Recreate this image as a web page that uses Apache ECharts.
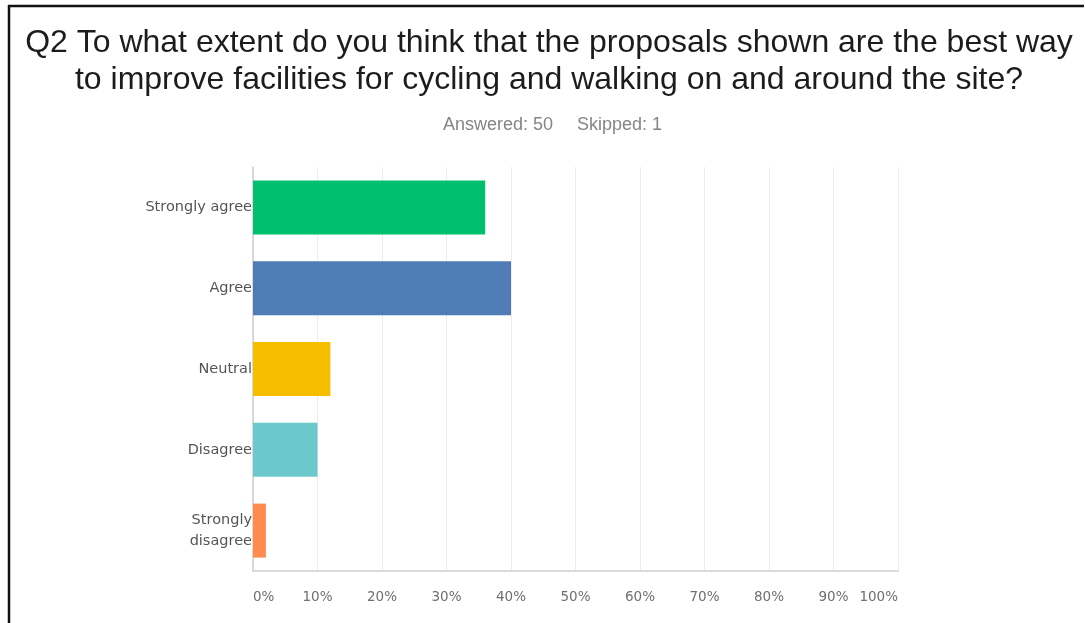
<!DOCTYPE html>
<html>
<head>
<meta charset="utf-8">
<script src="https://cdn.jsdelivr.net/npm/echarts@6/dist/echarts.min.js"></script>
<style>
html,body{margin:0;padding:0;background:#fff;}
#main{width:1085px;height:623px;}
</style>
</head>
<body>
<div id="main"></div>
<script>
const categories = ['Strongly agree', 'Agree', 'Neutral', 'Disagree', 'Strongly\ndisagree'];
const values = [36, 40, 12, 10, 2];
const barColors = ['#00bf6f', '#507cb6', '#f7be00', '#6bc8cd', '#ff8b4f'];
const titleLines = ['Q2 To what extent do you think that the proposals shown are the best way', 'to improve facilities for cycling and walking on and around the site?'];
const answeredText = 'Answered: 50';
const skippedText = 'Skipped: 1';

const chart = echarts.init(document.getElementById('main'));
chart.setOption({
  backgroundColor: '#fff',
  animation: false,
  title: {
    text: titleLines.join('\n'),
    left: 544,
    textAlign: 'center',
    top: 20,
    textStyle: { fontFamily: 'Liberation Sans', fontSize: 32, fontWeight: 'normal', color: '#1c1c1c', lineHeight: 37 }
  },
  graphic: [
    { type: 'line', shape: { x1: 8, y1: 6, x2: 1084, y2: 6 }, style: { stroke: '#111', lineWidth: 2.5 } },
    { type: 'line', shape: { x1: 9, y1: 5, x2: 9, y2: 623 }, style: { stroke: '#111', lineWidth: 2.5 } },
    { type: 'text', left: 443, top: 116, style: { text: answeredText, font: '18px "Liberation Sans"', fill: '#858585' } },
    { type: 'text', left: 577, top: 116, style: { text: skippedText, font: '18px "Liberation Sans"', fill: '#858585' } }
  ],
  grid: { left: 253, right: 187, top: 167, bottom: 52, containLabel: false },
  xAxis: {
    type: 'value', min: 0, max: 100, interval: 10,
    axisLine: { show: true, lineStyle: { color: '#cfcfcf', width: 1.5 } },
    axisTick: { show: false },
    splitLine: { show: true, lineStyle: { color: '#ececec', width: 1 } },
    axisLabel: {
      formatter: '{value}%', margin: 19, color: '#6f6f6f', fontSize: 13.5, fontFamily: 'DejaVu Sans',
      alignMinLabel: 'left', alignMaxLabel: 'right'
    }
  },
  yAxis: {
    type: 'category', data: categories, inverse: true,
    axisLine: { show: true, lineStyle: { color: '#cfcfcf', width: 1.5 } },
    axisTick: { show: false },
    axisLabel: { margin: 1, color: '#555', fontSize: 14.5, fontFamily: 'DejaVu Sans', lineHeight: 21, align: 'right' }
  },
  series: [{
    type: 'bar',
    barWidth: 54,
    data: values.map((v, i) => ({ value: v, itemStyle: { color: barColors[i] } })),
    z: 3
  }]
});
</script>
</body>
</html>
